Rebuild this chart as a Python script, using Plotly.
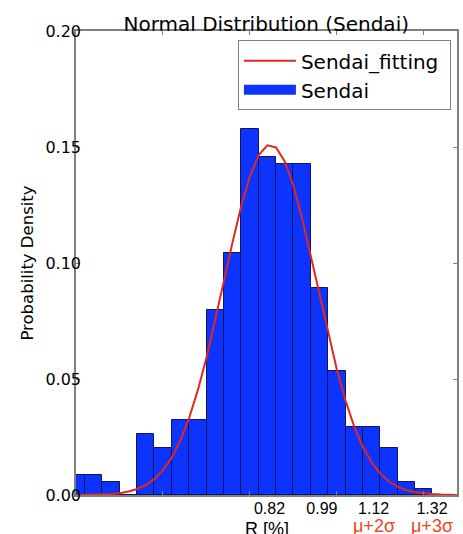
import plotly.graph_objects as go

# ---- data (x in histogram-bin units; bin width = 1) ----
bin_left = [-1, 0, 1, 2, 3, 4, 5, 6, 7, 8, 9, 10, 11, 12, 13, 14, 15, 16, 17, 18, 19]
density = [0.0086, 0.0086, 0.0057, 0.0, 0.0263, 0.0204, 0.0323, 0.0323, 0.0797, 0.1042,
           0.1578, 0.1458, 0.1427, 0.1427, 0.0891, 0.0534, 0.0294, 0.0294, 0.0204, 0.0057, 0.0026]

fit_x = [-0.5, 0, 0.5, 1, 1.5, 2, 2.5, 3, 3.5, 4, 4.5, 5, 5.5, 6, 6.5, 7, 7.5, 8, 8.5, 9, 9.5,
         10, 10.5, 11, 11.5, 12, 12.5, 13, 13.5, 14, 14.5, 15, 15.5, 16, 16.5, 17, 17.5, 18,
         18.5, 19, 19.5, 20, 20.5, 21, 21.5]
fit_y = [0.0000, 0.0001, 0.0001, 0.0002, 0.0004, 0.0008, 0.0015, 0.0026, 0.0043, 0.0069,
         0.0108, 0.0162, 0.0237, 0.0333, 0.0453, 0.0594, 0.0753, 0.0923, 0.1091, 0.1247,
         0.1375, 0.1465, 0.1507, 0.1498, 0.1438, 0.1333, 0.1193, 0.1031, 0.0861, 0.0694,
         0.0541, 0.0407, 0.0295, 0.0207, 0.0141, 0.0092, 0.0058, 0.0036, 0.0021, 0.0012,
         0.0007, 0.0004, 0.0002, 0.0001, 0.0000]

label_pos = [10.62, 13.64, 16.62, 19.98]
label_text = ["0.82", "0.99", "1.12", "1.32"]
sigma_pos = [16.62, 19.98]
sigma_text = ["μ+2σ", "μ+3σ"]
frame_ticks = [4.47, 9.47, 14.47, 19.47]
y_ticks = [0.0, 0.05, 0.10, 0.15, 0.20]

x_range = [-0.52, 21.42]
y_range = [0, 0.20]

BLUE = "#0d33ff"
RED = "#e2281c"
ORANGE = "#f0441e"
GREY = "#808080"

fig = go.Figure()
fig.add_trace(go.Scatter(x=fit_x, y=fit_y, mode="lines", name="Sendai_fitting\u00a0",
                         line=dict(color=RED, width=2)))
fig.add_trace(go.Bar(x=bin_left, y=density, width=1, offset=0, name="Sendai",
                     showlegend=False,
                     marker=dict(color=BLUE, line=dict(color="#14145a", width=1))))
# legend proxy for the histogram patch
fig.add_trace(go.Scatter(x=[None], y=[None], mode="lines", name="Sendai",
                         line=dict(color=BLUE, width=15), hoverinfo="skip"))
fig.add_trace(go.Scatter(x=[], y=[], xaxis="x2", showlegend=False, hoverinfo="skip"))

for pos, txt in zip(sigma_pos, sigma_text):
    fig.add_annotation(x=pos, xref="x", y=-0.066, yref="paper", text=txt, showarrow=False,
                       xanchor="center", yanchor="middle",
                       font=dict(family="Liberation Sans", size=18, color=ORANGE))
fig.add_annotation(x=0.5, xref="paper", y=-0.074, yref="paper", text="R [%]", showarrow=False,
                   xanchor="center", yanchor="middle",
                   font=dict(family="Liberation Sans", size=18, color="black"))

fig.update_layout(
    template="none",
    width=463, height=534,
    margin=dict(l=76, r=6, t=31, b=39, autoexpand=False),
    paper_bgcolor="white", plot_bgcolor="white",
    bargap=0,
    title=dict(text="Normal Distribution (Sendai)", x=0.575, xanchor="center",
               y=1 - 24 / 534, yanchor="middle",
               font=dict(family="DejaVu Sans", size=20, color="black")),
    font=dict(family="DejaVu Sans", color="black"),
    showlegend=True,
    legend=dict(x=0.425, y=0.98, xanchor="left", yanchor="top",
                bordercolor=GREY, borderwidth=1, bgcolor="white",
                font=dict(family="DejaVu Sans", size=20, color="black"),
                itemwidth=52, tracegroupgap=0),
    xaxis=dict(range=x_range, tickmode="array", tickvals=label_pos, ticktext=label_text,
               ticks="", showgrid=False, zeroline=False, showline=False, automargin=False,
               ticklabelstandoff=2,
               tickfont=dict(family="Liberation Sans", size=16, color="black")),
    xaxis2=dict(range=x_range, overlaying="x", side="top", tickmode="array",
                tickvals=frame_ticks, ticks="inside", ticklen=4, tickcolor=GREY,
                showticklabels=False, showgrid=False, zeroline=False, automargin=False,
                showline=True, linecolor=GREY, linewidth=1.5, mirror="ticks"),
    yaxis=dict(range=y_range, tickmode="array", tickvals=y_ticks, tickformat=".2f",
               ticks="inside", ticklen=4, tickcolor=GREY, showgrid=False, zeroline=False,
               showline=True, linecolor=GREY, linewidth=1.5, mirror="ticks", automargin=False,
               ticklabelstandoff=-10,
               tickfont=dict(family="DejaVu Sans", size=16, color="black"),
               title=dict(text="Probability Density",
                          font=dict(family="DejaVu Sans", size=16.5, color="black"))),
)

fig.write_html("out.html", config={"displayModeBar": False},
               post_script="document.body.style.margin='0';")
